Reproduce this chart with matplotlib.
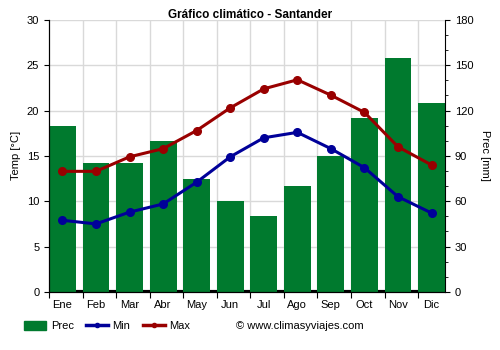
import numpy as np
import matplotlib.pyplot as plt

plt.rcParams['font.family'] = ['Liberation Sans', 'DejaVu Sans']

# monthly climate data for Santander
meses = ["Ene", "Feb", "Mar", "Abr", "May", "Jun", "Jul", "Ago", "Sep", "Oct", "Nov", "Dic"]
prec = [110, 85, 85, 100, 75, 60, 50, 70, 90, 115, 155, 125]
t_min = [7.9, 7.5, 8.8, 9.7, 12.1, 14.9, 17.0, 17.6, 15.8, 13.7, 10.5, 8.7]
t_max = [13.3, 13.3, 14.9, 15.8, 17.8, 20.3, 22.4, 23.4, 21.7, 19.8, 16.0, 14.0]

verde = "#007a2e"
azul = "#000099"
rojo = "#990000"

x = np.arange(len(meses))
bordes = np.arange(-0.4, 11.5, 1)

fig = plt.figure(figsize=(5, 3.5), dpi=100)
ax = fig.add_axes([0.098, 0.166, 0.792, 0.777])
ax2 = ax.twinx()

# precipitation bars on the right axis, drawn behind the temperature lines
ax.set_zorder(ax2.get_zorder() + 1)
ax.patch.set_visible(False)
ax2.grid(True, axis="y", color="#d9d9d9", linewidth=1, zorder=0)
for b in bordes[1:]:
    ax2.axvline(b, color="#d9d9d9", linewidth=1, zorder=0)
ax2.set_axisbelow(True)
ax2.axhline(0, color="black", linewidth=3, zorder=1)
ax2.bar(x, prec, width=0.8, color=verde, zorder=2)
ax2.set_ylim(0, 180)
ax2.set_yticks(np.arange(0, 181, 30))
ax2.set_yticks(np.arange(0, 181, 10), minor=True)
ax2.set_ylabel("Prec [mm]", fontsize=8, rotation=-90, labelpad=12)

ax.plot(x, t_min, color=azul, linewidth=2.2, marker="o", markersize=5.5)
ax.plot(x, t_max, color=rojo, linewidth=2.2, marker="o", markersize=5.5)
ax.set_ylim(0, 30)
ax.set_yticks(np.arange(0, 31, 5))
ax.set_ylabel("Temp [°C]", fontsize=8, labelpad=4)
ax.set_xlim(-0.4, 11.4)

# month boundaries as ticks, names centred on the bars
ax.set_xticks(bordes)
ax.set_xticklabels([])
ax.set_xticks(x, minor=True)
ax.set_xticklabels(meses, minor=True)
ax.tick_params(axis="x", which="minor", length=0, pad=6)
ax.tick_params(axis="x", which="major", length=4)
ax.tick_params(which="both", labelsize=8, colors="black")
ax2.tick_params(which="both", labelsize=8)
ax2.tick_params(axis="y", which="minor", length=2.5)

for a in (ax, ax2):
    a.spines["top"].set_visible(False)
ax.spines["right"].set_visible(False)

fig.suptitle("Gráfico climático - Santander", fontsize=8.5, fontweight="bold", y=0.975)

h_prec = plt.Rectangle((0, 0), 1, 1, color=verde)
h_min, = ax.plot([], [], color=azul, linewidth=2.5, marker="o", markersize=3)
h_max, = ax.plot([], [], color=rojo, linewidth=2.5, marker="o", markersize=3)
fig.legend([h_prec, h_min, h_max], ["Prec", "Min", "Max"], loc="lower left",
           bbox_to_anchor=(0.028, 0.025), ncol=3, frameon=False, fontsize=8,
           handlelength=2.0, handleheight=0.9, columnspacing=1.1, handletextpad=0.4)
fig.text(0.472, 0.068, "© www.climasyviajes.com", fontsize=8, va="center")

fig.savefig("out.png", dpi=100)
